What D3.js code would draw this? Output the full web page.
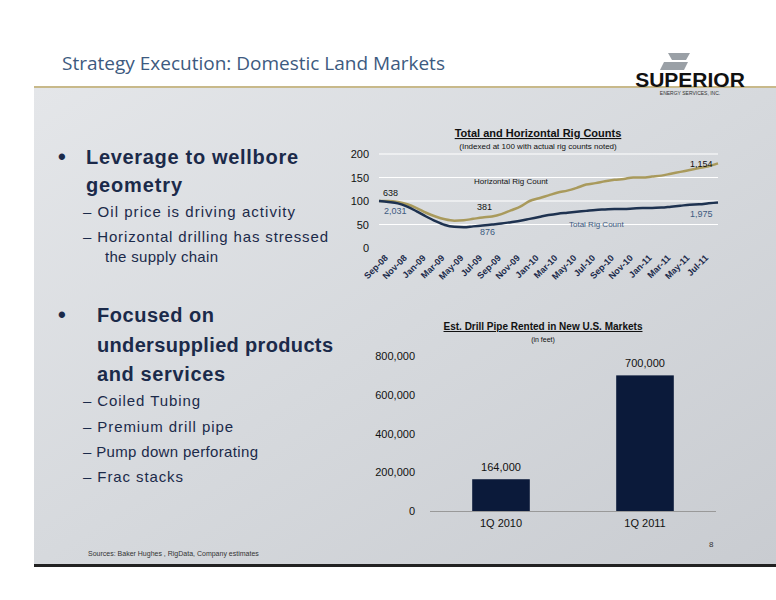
<!DOCTYPE html><html><head><meta charset="utf-8">
<script src="https://cdn.jsdelivr.net/npm/d3@7"></script>
<style>body{margin:0}svg{display:block}</style></head><body>
<script>
const months=["Sep-08","Oct-08","Nov-08","Dec-08","Jan-09","Feb-09","Mar-09","Apr-09","May-09","Jun-09","Jul-09","Aug-09","Sep-09","Oct-09","Nov-09","Dec-09","Jan-10","Feb-10","Mar-10","Apr-10","May-10","Jun-10","Jul-10","Aug-10","Sep-10","Oct-10","Nov-10","Dec-10","Jan-11","Feb-11","Mar-11","Apr-11","May-11","Jun-11","Jul-11","Aug-11","Sep-11"];
const horizontal=[100,100,98,93,85,75,67,61,58,59,62,65,67,72,80,88,100,106,112,118,122,128,135,138,142,145,147,150,150,152,154,158,162,166,170,174,180];
const total=[100,98,95,88,78,67,57,49,45,44,46,48,50,52,55,58,62,66,70,73,75,77,79,81,82,83,83,84,85,85,86,88,90,92,93,95,97];
const rigTicks=[0,50,100,150,200];
const pipeCats=["1Q 2010","1Q 2011"];
const pipeVals=[164000,700000];
const pipeTicks=[0,200000,400000,600000,800000];

const W=776,H=600;
const svg=d3.select("body").append("svg").attr("width",W).attr("height",H);
const defs=svg.append("defs");
const g1=defs.append("linearGradient").attr("id","bg").attr("x1",0).attr("y1",0).attr("x2",1).attr("y2",1);
g1.append("stop").attr("offset",0).attr("stop-color","#e4e6e9");
g1.append("stop").attr("offset",0.5).attr("stop-color","#d6d9dd");
g1.append("stop").attr("offset",1).attr("stop-color","#c9ccd1");
svg.append("rect").attr("width",W).attr("height",H).attr("fill","#fff");
svg.append("rect").attr("x",34).attr("y",88).attr("width",742).attr("height",476).attr("fill","url(#bg)");
svg.append("rect").attr("x",34).attr("y",86).attr("width",742).attr("height",2).attr("fill","#c8b98a");
svg.append("rect").attr("x",34).attr("y",564).attr("width",742).attr("height",3).attr("fill","#222");
svg.append("text").attr("x",62).attr("y",70).text("Strategy Execution: Domestic Land Markets")
 .attr("font-family","Open Sans, sans-serif").attr("font-size",19).attr("fill","#3d5a80");
const lg=svg.append("g");
lg.append("path").attr("d","M668,53 L690,53 L686,60 L672,60 Z M664,62 L688,62 L684,70 L660,70 Z").attr("fill","#9aa0a6");
lg.append("text").attr("x",690).attr("y",87).attr("text-anchor","middle").text("SUPERIOR").attr("font-family","Liberation Sans Narrow, Arial Narrow, sans-serif").attr("font-weight","bold").attr("font-size",21).attr("fill","#111");
lg.append("text").attr("x",690).attr("y",95).attr("text-anchor","middle").text("ENERGY SERVICES, INC.").attr("font-family","Arial, sans-serif").attr("font-size",5).attr("fill","#333");

const navy="#1b2a4a",ff="Liberation Sans, Arial, sans-serif";
function t(x,y,s,size,opt={}){const e=svg.append("text").attr("x",x).attr("y",y).text(s).attr("font-family",opt.ff||ff).attr("font-size",size).attr("fill",opt.fill||navy);
 if(opt.bold)e.attr("font-weight","bold");if(opt.anchor)e.attr("text-anchor",opt.anchor);if(opt.u)e.attr("text-decoration","underline");return e;}
t(58,164,"•",22,{bold:1});
t(86,164,"Leverage to wellbore",20,{bold:1,ff:"Liberation Sans Narrow, sans-serif"}).attr("textLength",212);
t(86,192,"geometry",20,{bold:1}).attr("textLength",96);
t(83,217,"– Oil price is driving activity",15).attr("textLength",212);
t(83,242,"– Horizontal drilling has stressed",15).attr("textLength",245);
t(105,262,"the supply chain",15).attr("textLength",113);
t(58,322,"•",22,{bold:1});
t(97,322,"Focused on",20,{bold:1}).attr("textLength",117);
t(97,352,"undersupplied products",20,{bold:1}).attr("textLength",236);
t(97,381,"and services",20,{bold:1}).attr("textLength",128);
t(83,406,"– Coiled Tubing",15).attr("textLength",117);
t(83,432,"– Premium drill pipe",15).attr("textLength",150);
t(83,457,"– Pump down perforating",15).attr("textLength",175);
t(83,482,"– Frac stacks",15).attr("textLength",100);
t(88,556,"Sources: Baker Hughes , RigData, Company estimates",7,{fill:"#333"});
t(709,547,"8",8,{fill:"#333"});

const x=d3.scaleLinear().domain([0,months.length-1]).range([379,718]);
const y=d3.scaleLinear().domain([0,200]).range([248,154]);
const c1=svg.append("g");
rigTicks.forEach(v=>{if(v>0)c1.append("line").attr("x1",379).attr("x2",718).attr("y1",y(v)).attr("y2",y(v)).attr("stroke","#fff").attr("stroke-width",1.2);});
c1.append("g").attr("transform","translate(372,0)").call(d3.axisLeft(y).tickValues(rigTicks).tickSize(0)).call(a=>{a.select(".domain").remove();a.selectAll("text").attr("font-family",ff).attr("font-size",11).attr("fill","#111");});
const xa=c1.append("g").attr("transform","translate(0,252)").call(d3.axisBottom(x).tickValues(d3.range(0,months.length-1,2)).tickFormat(i=>months[i]).tickSize(0));
xa.select(".domain").remove();
xa.selectAll("text").attr("font-family",ff).attr("font-weight","bold").attr("font-size",9).attr("fill",navy).attr("text-anchor","end").attr("transform","rotate(-45)").attr("dx","0.2em").attr("dy","0.9em");
const ln=d3.line().x((d,i)=>x(i)).y(d=>y(d)).curve(d3.curveMonotoneX);
c1.append("path").attr("d",ln(horizontal)).attr("fill","none").attr("stroke","#a99a5c").attr("stroke-width",2.5);
c1.append("path").attr("d",ln(total)).attr("fill","none").attr("stroke","#1e3250").attr("stroke-width",2.5);
t(538,137,"Total and Horizontal Rig Counts",11,{bold:1,anchor:"middle",u:1,fill:"#111"});
t(538,149,"(Indexed at 100 with actual rig counts noted)",8,{anchor:"middle",fill:"#111"});
t(474,184,"Horizontal Rig Count",8,{fill:"#111"});
t(569,227,"Total Rig Count",8,{fill:"#3d5a80"});
t(383,196,"638",9,{fill:"#111"});t(384,214,"2,031",9,{fill:"#3d5a80"});
t(477,210,"381",9,{fill:"#111"});t(480,235,"876",9,{fill:"#3d5a80"});
t(690,167,"1,154",9,{fill:"#111"});t(690,217,"1,975",9,{fill:"#3d5a80"});

const xb=d3.scaleBand().domain(pipeCats).range([429,717]).paddingInner(0.6).paddingOuter(0.3);
const yb=d3.scaleLinear().domain([0,800000]).range([511,356]);
const c2=svg.append("g");
c2.append("g").attr("transform","translate(418,0)").call(d3.axisLeft(yb).tickValues(pipeTicks).tickSize(0).tickFormat(d3.format(",")))
 .call(a=>{a.select(".domain").remove();a.selectAll("text").attr("font-family",ff).attr("font-size",11).attr("fill","#111");});
c2.selectAll("rect.b").data(pipeVals).join("rect").attr("x",(d,i)=>xb(pipeCats[i])).attr("width",xb.bandwidth()).attr("y",d=>yb(d)).attr("height",d=>511-yb(d)).attr("fill","#0b1a3a");
c2.selectAll("text.v").data(pipeVals).join("text").attr("x",(d,i)=>xb(pipeCats[i])+xb.bandwidth()/2).attr("y",d=>yb(d)-8).attr("text-anchor","middle").text(d3.format(",")).attr("font-family",ff).attr("font-size",11).attr("fill","#111");
c2.append("line").attr("x1",430).attr("x2",716).attr("y1",511.5).attr("y2",511.5).attr("stroke","#999");
c2.append("g").attr("transform","translate(0,516)").call(d3.axisBottom(xb).tickSize(0)).call(a=>{a.select(".domain").remove();a.selectAll("text").attr("font-family",ff).attr("font-size",11).attr("fill","#111");});
t(543,330,"Est. Drill Pipe Rented in New U.S. Markets",10,{bold:1,anchor:"middle",u:1,fill:"#111"});
t(543,342,"(in feet)",7,{anchor:"middle",fill:"#111"});
</script></body></html>
